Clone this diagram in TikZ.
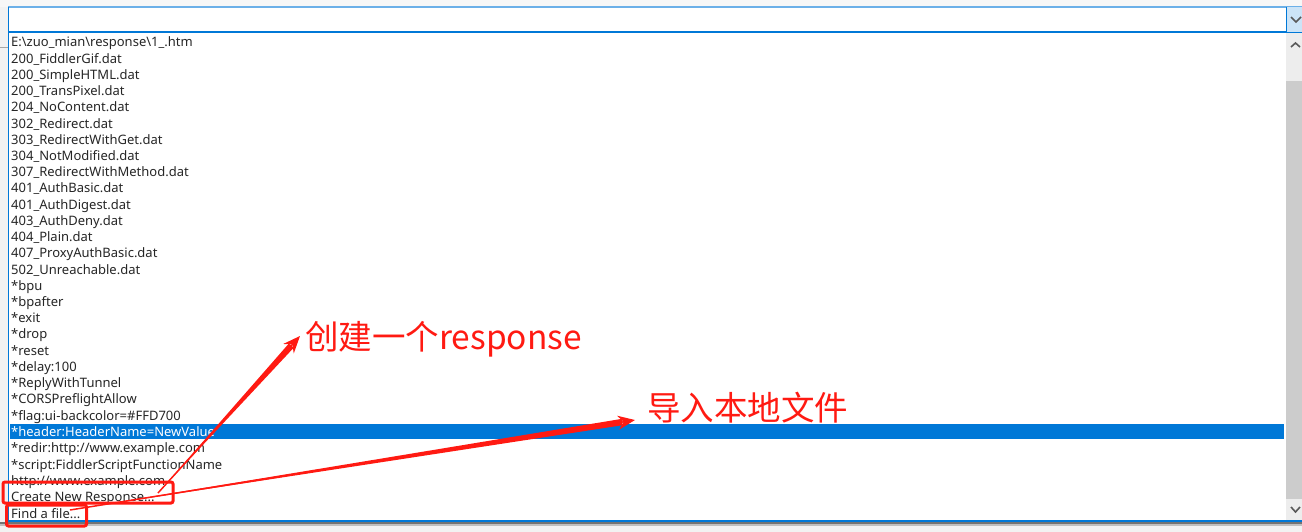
\documentclass[tikz,border=0pt]{standalone}
\usepackage{fontspec}
\setmainfont{Noto Sans}
\newfontfamily\cjk{Noto Sans CJK SC}
\usetikzlibrary{arrows.meta, calc}
\definecolor{winblue}{HTML}{0078D7}
\definecolor{lightblue}{HTML}{6CB0E8}
\definecolor{btnblue}{HTML}{CCE4F7}
\definecolor{markred}{HTML}{FF1A12}
\tikzset{
    rowtext/.style={anchor=base west, inner sep=0pt, font=\fontsize{13}{15}\selectfont, text=black!85},
    hilite/.style={rowtext, text=white},
    markbox/.style={draw=markred, line width=3pt, rounded corners=2pt, inner sep=0pt},
    marklabel/.style={anchor=west, inner sep=0pt, text=markred, font=\cjk\fontsize{33.5}{38}\selectfont},
    markarrow/.style={draw=markred, line width=1.5pt, -{Stealth[length=17pt, width=14pt]}},
    chevron/.style={draw=black!65, line width=1.6pt}
}
\begin{document}
\begin{tikzpicture}[x=1pt, y=-1pt]
    % Page
    \useasboundingbox (0,0) rectangle (1302,532);
    \fill[black!5] (0,0) rectangle (1302,532);
    \fill[black!3] (0,0) rectangle (1302,7);
    \draw[black!35, line width=1pt] (0,47.5) -- (8,47.5);

    % Combo box and list
    \fill[white] (8,7) rectangle (1302,521);
    \draw[lightblue, line width=1.2pt] (8,7) -- (1302,7);
    \draw[winblue, line width=1.2pt] (8,32) -- (1302,32);
    \draw[winblue, line width=1pt] (8.5,7) -- (8.5,521);
    \fill[black!55] (0,522) rectangle (1302,524);
    \fill[black!25] (0,524) rectangle (1302,526);
    \draw[winblue, line width=1.2pt] (8,521) -- (1302,521);

    % Drop down button
    \fill[btnblue] (1286,7) rectangle (1302,32);
    \draw[winblue, line width=1pt] (1286.5,7) -- (1286.5,32);
    \draw[chevron] (1291,17) -- (1296,22) -- (1301,17);

    % Scroll bar
    \fill[black!7] (1286,33) rectangle (1302,520);
    \fill[black!20] (1286,81) rectangle (1302,499);
    \draw[chevron] (1291,47) -- (1295.5,43) -- (1300,47);
    \draw[chevron] (1291,507) -- (1295.5,512) -- (1300,507);

    % Selected row
    \fill[winblue] (10,424) rectangle (1284,439);

    % Rows
    \foreach \rowtxt [count=\i from 0] in {
        E:\textbackslash zuo\_mian\textbackslash response\textbackslash 1\_.htm,
        200\_FiddlerGif.dat, 200\_SimpleHTML.dat, 200\_TransPixel.dat,
        204\_NoContent.dat, 302\_Redirect.dat, 303\_RedirectWithGet.dat,
        304\_NotModified.dat, 307\_RedirectWithMethod.dat, 401\_AuthBasic.dat,
        401\_AuthDigest.dat, 403\_AuthDeny.dat, 404\_Plain.dat,
        407\_ProxyAuthBasic.dat, 502\_Unreachable.dat, *bpu, *bpafter, *exit,
        *drop, *reset, *delay:100, *ReplyWithTunnel, *CORSPreflightAllow,
        *flag:ui-backcolor=\#FFD700}
        \node[rowtext] (row\i) at (11, 47+16.22*\i) {\rowtxt};
    \node[hilite] (rowheader) at (11,436) {*header:HeaderName=NewValue};
    \node[rowtext] (rowredir) at (11,452.5) {*redir:http://www.example.com};
    \node[rowtext] (rowscript) at (11,469) {*script:FiddlerScriptFunctionName};
    \node[rowtext] (rowhttp) at (11,485) {http://www.example.com};
    \node[rowtext] (rowcreate) at (11,501.5) {Create New Response...};
    \node[rowtext] (rowfind) at (11,518) {Find a file...};

    % Red marks
    \node[markbox, minimum width=170pt, minimum height=21pt] (createbox) at (88,492.5) {};
    \node[markbox, minimum width=80pt, minimum height=21pt] (findbox) at (46.5,515.5) {};
    \node[marklabel] (createlabel) at (305,339) {创建一个response};
    \node[marklabel] (findlabel) at (647,408) {导入本地文件};

    % Arrows
    \coordinate (createstart) at (158,493);
    \coordinate (findstart) at (70,510);
    \coordinate (createtip) at (300,336);
    \coordinate (findtip) at (635,420);
    \foreach \from/\to in {createstart/createtip, findstart/findtip} {
        \fill[markred] (\from) -- ($(\to)!13pt!(\from)!3.2pt!90:(\from)$)
            -- ($(\to)!13pt!(\from)!3.2pt!-90:(\from)$) -- cycle;
        \draw[markarrow] (\from) -- (\to);
    }
\end{tikzpicture}
\end{document}
